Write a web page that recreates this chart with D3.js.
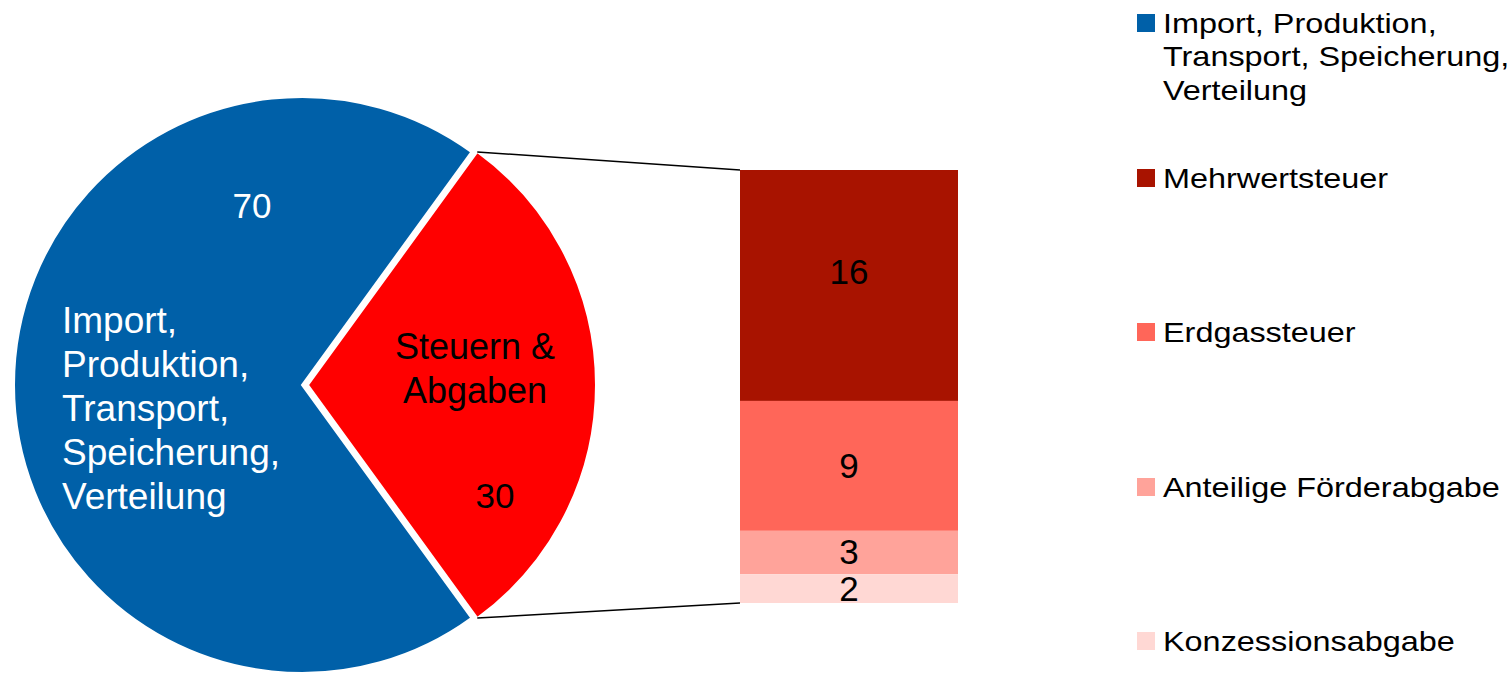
<!DOCTYPE html>
<html>
<head>
<meta charset="utf-8">
<script src="https://cdn.jsdelivr.net/npm/d3@7"></script>
<style>
  html, body { margin: 0; padding: 0; background: #fff; }
  svg { display: block; font-family: "Liberation Sans", Arial, sans-serif; }
</style>
</head>
<body>
<svg id="chart" width="1512" height="674"></svg>
<script>

// Pie: main share vs. taxes & levies.
var pieNames = ['Import, Produktion, Transport, Speicherung, Verteilung', 'Steuern & Abgaben'];
var pieValues = [70, 30];
var pieColors = ['#0060A8', '#FF0000'];

// Bar: breakdown of taxes & levies, top to bottom.
var barNames = ['Mehrwertsteuer', 'Erdgassteuer', 'Anteilige Förderabgabe', 'Konzessionsabgabe'];
var barValues = [16, 9, 3, 2];
var barColors = ['#A81300', '#FF6659', '#FFA39A', '#FFD8D4'];

// Legend labels (first entry wraps).
var legendLines = [
  ['Import, Produktion,', 'Transport, Speicherung,', 'Verteilung'],
  ['Mehrwertsteuer'],
  ['Erdgassteuer'],
  ['Anteilige Förderabgabe'],
  ['Konzessionsabgabe']
];
var legendColors = [pieColors[0]].concat(barColors);

var svg = d3.select('#chart');

// Layout.
var radius = 288;
var cy = 385;
var mainCx = 302;
var otherCx = 308;
var deg = Math.PI / 180;
var halfOther = pieValues[1] / d3.sum(pieValues) * 180;

/*
 * Pie slices.
 */
var pie = d3.pie().sort(null).value(function(d) { return d; })
  .startAngle((90 + halfOther) * deg)
  .endAngle((450 + halfOther) * deg);

var arc = d3.arc().innerRadius(0).outerRadius(radius);
var slices = pie(pieValues);

svg.selectAll('path.slice')
  .data(slices)
  .enter().append('path')
  .attr('class', 'slice')
  .attr('transform', function(d, i) {
    return 'translate(' + (i === 0 ? mainCx : otherCx) + ',' + cy + ')'; })
  .attr('d', arc)
  .attr('fill', function(d, i) { return pieColors[i]; })
  .attr('stroke', '#fff')
  .attr('stroke-width', 2);

// Point on the exploded slice's rim.
function rim(a) {
  return [otherCx + radius * Math.sin(a), cy - radius * Math.cos(a)];
}

/*
 * Stacked bar.
 */
var y = d3.scaleLinear().domain([0, d3.sum(barValues)]).range([603, 170]);
var x = d3.scaleBand().domain(['bar']).range([740, 958]).padding(0);

var bottoms = [];
var acc = 0;
for (var i = barValues.length - 1; i >= 0; i--) {
  bottoms[i] = acc;
  acc += barValues[i];
}

svg.selectAll('rect.seg')
  .data(barValues)
  .enter().append('rect')
  .attr('class', 'seg')
  .attr('x', x('bar'))
  .attr('width', x.bandwidth())
  .attr('y', function(d, i) { return y(bottoms[i] + d); })
  .attr('height', function(d, i) { return y(bottoms[i]) - y(bottoms[i] + d); })
  .attr('fill', function(d, i) { return barColors[i]; });

svg.selectAll('text.seg')
  .data(barValues)
  .enter().append('text')
  .attr('class', 'seg')
  .attr('x', x('bar') + x.bandwidth() / 2)
  .attr('y', function(d, i) {
    var mid = (y(bottoms[i]) + y(bottoms[i] + d)) / 2;
    return (i === 0 ? mid - 13 : mid) + 12; })
  .attr('text-anchor', 'middle')
  .attr('font-size', 35)
  .attr('fill', '#000')
  .text(function(d) { return d; });

// Connector lines.
var other = slices[1];
var pTop = rim(other.startAngle - 2 * Math.PI);
var pBottom = rim(other.endAngle - 2 * Math.PI);
var connectors = [
  [pTop, [x('bar'), y(d3.sum(barValues))]],
  [pBottom, [x('bar'), y(0)]]
];

svg.selectAll('line.conn')
  .data(connectors)
  .enter().append('line')
  .attr('class', 'conn')
  .attr('x1', function(d) { return d[0][0]; })
  .attr('y1', function(d) { return d[0][1]; })
  .attr('x2', function(d) { return d[1][0]; })
  .attr('y2', function(d) { return d[1][1]; })
  .attr('stroke', '#000')
  .attr('stroke-width', 1.5);

/*
 * Pie labels.
 */
svg.append('text')
  .attr('x', 252).attr('y', 218)
  .attr('text-anchor', 'middle')
  .attr('font-size', 35).attr('fill', '#fff')
  .text(pieValues[0]);

var mainLines = ['Import,', 'Produktion,', 'Transport,', 'Speicherung,', 'Verteilung'];
svg.append('text')
  .attr('font-size', 37).attr('fill', '#fff')
  .selectAll('tspan')
  .data(mainLines)
  .enter().append('tspan')
  .attr('x', 62)
  .attr('y', function(d, i) { return 333 + i * 44; })
  .text(function(d) { return d; });

svg.append('text')
  .attr('font-size', 36).attr('fill', '#000')
  .attr('text-anchor', 'middle')
  .selectAll('tspan')
  .data(['Steuern &', 'Abgaben'])
  .enter().append('tspan')
  .attr('x', 475)
  .attr('y', function(d, i) { return 359 + i * 44; })
  .text(function(d) { return d; });

svg.append('text')
  .attr('x', 495).attr('y', 508)
  .attr('text-anchor', 'middle')
  .attr('font-size', 35).attr('fill', '#000')
  .text(pieValues[1]);

/*
 * Legend.
 */
var legendTops = [33, 188, 342, 497, 651];
var legend = svg.selectAll('g.legend')
  .data(legendLines)
  .enter().append('g')
  .attr('class', 'legend')
  .attr('transform', function(d, i) { return 'translate(0,' + legendTops[i] + ')'; });

legend.append('rect')
  .attr('x', 1137).attr('y', -19)
  .attr('width', 18).attr('height', 18)
  .attr('fill', function(d, i) { return legendColors[i]; });

legend.append('text')
  .attr('transform', 'translate(1163,0) scale(1.2,1)')
  .attr('font-size', 27).attr('fill', '#000')
  .selectAll('tspan')
  .data(function(d) { return d; })
  .enter().append('tspan')
  .attr('x', 0)
  .attr('y', function(d, i) { return i * 33.5; })
  .text(function(d) { return d; });

</script>
</body>
</html>
